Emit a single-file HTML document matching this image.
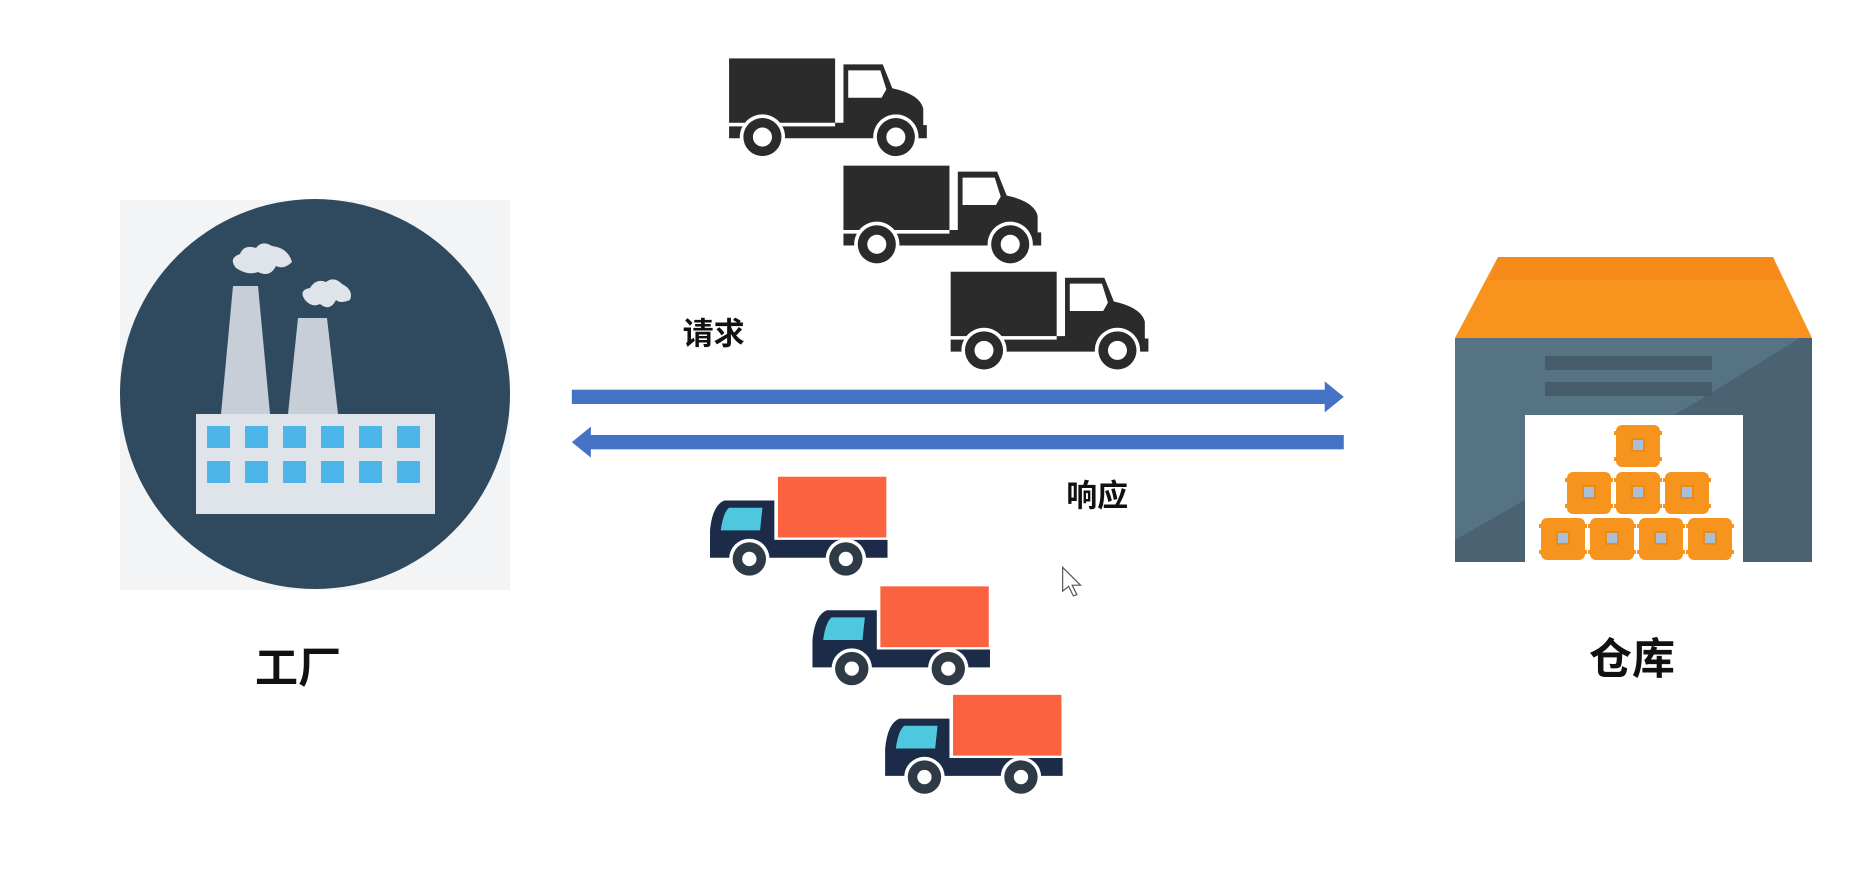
<!DOCTYPE html>
<html><head><meta charset="utf-8"><style>
html,body{margin:0;padding:0;background:#fff;}
svg{display:block}
text{font-family:"Liberation Sans","Noto Sans CJK SC",sans-serif;font-weight:bold;fill:#111}
</style></head><body>
<svg width="1868" height="876" viewBox="0 0 1868 876" xmlns="http://www.w3.org/2000/svg">
<defs>
<g id="bt">
  <rect x="0" y="0" width="89" height="54" fill="#2b2b2b"/>
  <path d="M96 5 H129 L137 25 Q160 30 163 42 V56 H166 V67 H0 V57 H89 V54 H96 Z" fill="#2b2b2b"/>
  <path d="M100 10 H127 L132 26 L128 33 H100 Z" fill="#fff"/>
  <circle cx="28" cy="66" r="19" fill="#fff"/>
  <circle cx="28" cy="66" r="16" fill="#2b2b2b"/>
  <circle cx="28" cy="66" r="8" fill="#fff"/>
  <circle cx="140" cy="66" r="19" fill="#fff"/>
  <circle cx="140" cy="66" r="16" fill="#2b2b2b"/>
  <circle cx="140" cy="66" r="8" fill="#fff"/>
</g>
<g id="rt">
  <rect x="59" y="0" width="91" height="51" fill="#fb6240"/>
  <path d="M14 20 H56 V53 H151 V68 H2 V45 Q4 24 14 20 Z" fill="#1c2b48"/>
  <path d="M18 26 H46 L44 45 H11 Q13 30 18 26 Z" fill="#4fc7de"/>
  <circle cx="35" cy="69" r="17" fill="#fff"/>
  <circle cx="35" cy="69" r="14" fill="#2f3a47"/>
  <circle cx="35" cy="69" r="6" fill="#fff"/>
  <circle cx="116" cy="69" r="17" fill="#fff"/>
  <circle cx="116" cy="69" r="14" fill="#2f3a47"/>
  <circle cx="116" cy="69" r="6" fill="#fff"/>
</g>
<g id="box">
  <rect x="0" y="2" width="44" height="42" rx="6" fill="#f7941d"/>
  <rect x="-2" y="8" width="48" height="4" fill="#f7941d"/>
  <rect x="-2" y="34" width="48" height="4" fill="#f7941d"/>
  <rect x="16" y="16" width="12" height="12" fill="#a9bfd8" stroke="#e98a1a" stroke-width="2"/>
</g>
</defs>

<!-- Factory -->
<rect x="120" y="200" width="390" height="390" fill="#f3f4f5"/>
<circle cx="315" cy="394" r="195" fill="#2f4a5f"/>
<polygon points="221,414 270,414 258,286 233,286" fill="#c7ced8"/>
<polygon points="288,414 338,414 327,318 298,318" fill="#c7ced8"/>
<path d="M236 268 Q228 258 240 254 Q244 244 256 248 Q262 240 272 246 Q288 248 292 262 Q284 270 276 266 Q270 278 258 272 Q248 276 236 268 Z" fill="#dfe4ea"/>
<path d="M305 300 Q298 290 310 288 Q316 278 326 282 Q334 276 342 284 Q354 290 350 300 Q340 304 336 300 Q330 312 320 304 Q312 308 305 300 Z" fill="#dfe4ea"/>
<rect x="196" y="414" width="239" height="100" fill="#dfe4ea"/>
<g fill="#4cb6ea">
  <rect x="207" y="426" width="23" height="22"/><rect x="245" y="426" width="23" height="22"/><rect x="283" y="426" width="23" height="22"/><rect x="321" y="426" width="23" height="22"/><rect x="359" y="426" width="23" height="22"/><rect x="397" y="426" width="23" height="22"/>
  <rect x="207" y="461" width="23" height="22"/><rect x="245" y="461" width="23" height="22"/><rect x="283" y="461" width="23" height="22"/><rect x="321" y="461" width="23" height="22"/><rect x="359" y="461" width="23" height="22"/><rect x="397" y="461" width="23" height="22"/>
</g>
<text x="298" y="683" font-size="43" text-anchor="middle">工厂</text>

<!-- Warehouse -->
<polygon points="1498,257 1773,257 1812,338 1455,338" fill="#f8931e"/>
<polygon points="1498,257 1773,257 1782,280 1489,280" fill="#f58a1a"/>
<rect x="1455" y="338" width="357" height="224" fill="#557382"/>
<polygon points="1812,338 1812,562 1455,562 1455,540 1700,400 1800,338" fill="#4a6271"/>
<rect x="1545" y="356" width="167" height="14" fill="#455d6b"/>
<rect x="1545" y="382" width="167" height="14" fill="#455d6b"/>
<rect x="1525" y="415" width="218" height="147" fill="#fff"/>
<use href="#box" x="1616" y="423"/>
<use href="#box" x="1567" y="470"/>
<use href="#box" x="1616" y="470"/>
<use href="#box" x="1665" y="470"/>
<use href="#box" x="1541" y="516"/>
<use href="#box" x="1590" y="516"/>
<use href="#box" x="1639" y="516"/>
<use href="#box" x="1688" y="516"/>
<text x="1632" y="674" font-size="43" text-anchor="middle">仓库</text>

<g transform="scale(1.1913,1.1918)">
  <!-- black trucks -->
  <use href="#bt" x="612" y="49"/>
  <use href="#bt" x="708" y="139"/>
  <use href="#bt" x="798" y="228"/>
  <!-- arrows -->
  <rect x="480" y="327" width="634" height="12" fill="#4472c4"/>
  <polygon points="1112,320 1128,333 1112,346" fill="#4472c4"/>
  <rect x="494" y="365" width="634" height="12" fill="#4472c4"/>
  <polygon points="496,358 480,371 496,384" fill="#4472c4"/>
  <text x="573" y="289" font-size="26">请求</text>
  <text x="895" y="425" font-size="26">响应</text>
  <!-- red trucks -->
  <use href="#rt" x="594" y="400"/>
  <use href="#rt" x="680" y="492"/>
  <use href="#rt" x="741" y="583"/>
  <!-- cursor -->
  <path d="M892 476 L892 496 L897 492 L901 500 L904 499 L900 491 L907 491 Z" fill="#fff" stroke="#555" stroke-width="1"/>
</g>
</svg>
</body></html>
